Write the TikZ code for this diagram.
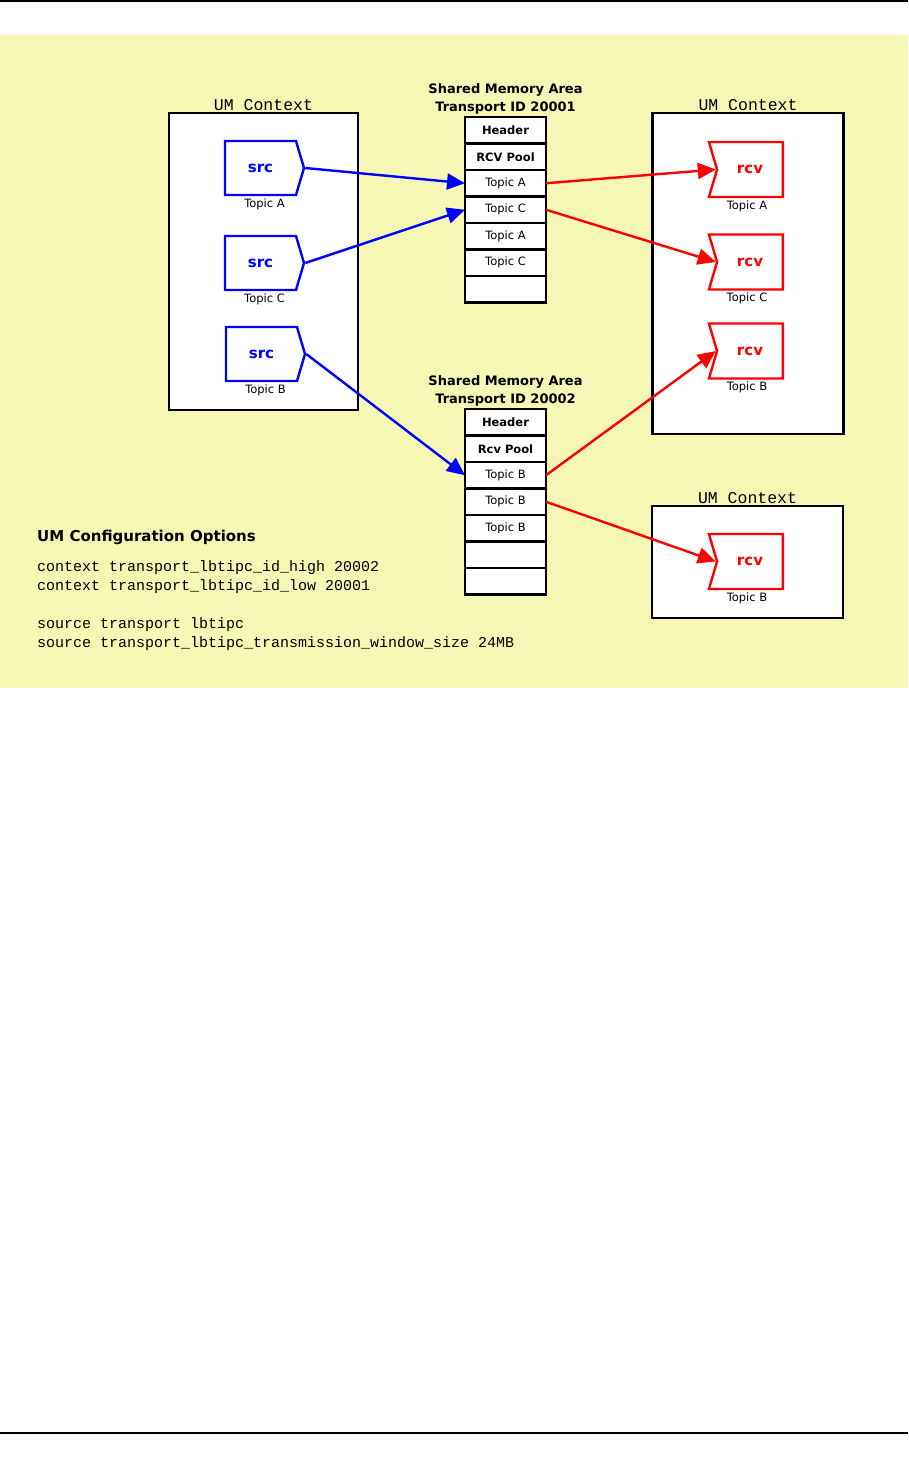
\documentclass[tikz,border=0pt]{standalone}
\usepackage{fontspec}
\setmainfont{DejaVu Sans}
\setmonofont{Liberation Mono}
\usetikzlibrary{positioning,arrows.meta,shapes.symbols}
\definecolor{bgyellow}{RGB}{246,247,180}

\begin{document}
\begin{tikzpicture}[x=1pt, y=-1pt, node distance=0pt,
  ctx/.style={draw, line width=2.2pt, fill=white, inner sep=0pt},
  ctxtitle/.style={font=\ttfamily\fontsize{16.5}{18}\selectfont, inner sep=1pt},
  srcbox/.style={signal, signal to=east, signal pointer angle=147, draw=blue, line width=2.4pt, fill=white, text=blue, font=\bfseries\fontsize{15}{17}\selectfont, minimum width=79pt, minimum height=54pt, inner sep=0pt},
  rcvbox/.style={signal, signal to=nowhere, signal from=west, signal pointer angle=147, draw=red, line width=2.4pt, fill=white, text=red, font=\bfseries\fontsize{15}{17}\selectfont, minimum width=74pt, minimum height=55pt, inner sep=0pt},
  topic/.style={font=\fontsize{11.5}{13}\selectfont, inner sep=1pt},
  cell/.style={draw, line width=2.2pt, fill=white, minimum width=81pt, minimum height=26.5pt, inner sep=0pt, outer sep=0pt, font=\fontsize{11.5}{13}\selectfont},
  hcell/.style={cell, font=\bfseries\fontsize{11.5}{13}\selectfont},
  shmtitle/.style={align=center, font=\bfseries\fontsize{13}{18}\selectfont, inner sep=1pt},
  sendarr/.style={draw=blue, line width=2.4pt, -{Triangle[length=18pt, width=16pt]}},
  recvarr/.style={sendarr, draw=red}]
\useasboundingbox (0,0) rectangle (908,1463);
\draw[line width=1.5pt] (0,1) -- (908,1);
\draw[line width=1.5pt] (0,1433) -- (908,1433);
\fill[bgyellow] (0,35) rectangle (908,688);
% contexts
\node[ctx, minimum width=189pt, minimum height=297pt] (ctxsrc) at (263.5,261.5) {};
\node[ctxtitle, above=of ctxsrc] (ctxsrct) {UM Context};
\node[ctx, minimum width=191pt, minimum height=321pt] (ctxrcv) at (748,273.5) {};
\node[ctxtitle, above=of ctxrcv] (ctxrcvt) {UM Context};
\node[ctx, minimum width=191pt, minimum height=112pt] (ctxrcvb) at (747.5,562) {};
\node[ctxtitle, above=of ctxrcvb] (ctxrcvbt) {UM Context};
% sources
\node[srcbox] (srcA) at (260.5,168) {src};
\node[topic, below=1pt of srcA, xshift=4pt] (srcAt) {Topic A};
\node[srcbox] (srcC) at (260.5,263) {src};
\node[topic, below=1pt of srcC, xshift=4pt] (srcCt) {Topic C};
\node[srcbox] (srcB) at (261.5,354) {src};
\node[topic, below=1pt of srcB, xshift=4pt] (srcBt) {Topic B};
% receivers
\node[rcvbox] (rcvA) at (750,169.5) {rcv};
\node[topic, below=1pt of rcvA, xshift=-3pt] (rcvAt) {Topic A};
\node[rcvbox] (rcvC) at (750,262) {rcv};
\node[topic, below=1pt of rcvC, xshift=-3pt] (rcvCt) {Topic C};
\node[rcvbox] (rcvB) at (750,351) {rcv};
\node[topic, below=1pt of rcvB, xshift=-3pt] (rcvBt) {Topic B};
\node[rcvbox] (rcvBb) at (750,561.5) {rcv};
\node[topic, below=1pt of rcvBb, xshift=-3pt] (rcvBbt) {Topic B};
% shared memory 20001
\node[hcell] (hdr1) at (505.5,130.25) {Header};
\node[shmtitle, above=2pt of hdr1] (shm1) {Shared Memory Area\\Transport ID 20001};
\node[hcell, below=of hdr1] (pool1) {RCV Pool};
\node[cell, below=of pool1] (a1) {Topic A};
\node[cell, below=of a1] (c1) {Topic C};
\node[cell, below=of c1] (a2) {Topic A};
\node[cell, below=of a2] (c2) {Topic C};
\node[cell, below=of c2] (free1) {};
% shared memory 20002
\node[hcell] (hdr2) at (505.5,422.25) {Header};
\node[shmtitle, above=2pt of hdr2] (shm2) {Shared Memory Area\\Transport ID 20002};
\node[hcell, below=of hdr2] (pool2) {Rcv Pool};
\node[cell, below=of pool2] (b1) {Topic B};
\node[cell, below=of b1] (b2) {Topic B};
\node[cell, below=of b2] (b3) {Topic B};
\node[cell, below=of b3] (free2) {};
\node[cell, below=of free2] (free3) {};
% options
\node[anchor=west, inner sep=0pt, font=\bfseries\fontsize{15}{18}\selectfont] (cfgt) at (37,537) {UM Configuration Options};
\node[anchor=north west, inner sep=0pt, align=left, font=\ttfamily\fontsize{15}{19}\selectfont] (cfg) at (37,560)
  {context transport\_lbtipc\_id\_high 20002\\
   context transport\_lbtipc\_id\_low 20001\\[19pt]
   source transport lbtipc\\
   source transport\_lbtipc\_transmission\_window\_size 24MB};
% flows
\draw[sendarr] (srcA.east) -- (a1.west);
\draw[sendarr] (srcC.east) -- (c1.west);
\draw[sendarr] (srcB.east) -- (b1.west);
\draw[recvarr] (a1.east) -- (rcvA.west);
\draw[recvarr] (c1.east) -- (rcvC.west);
\draw[recvarr] (b1.east) -- (rcvB.west);
\draw[recvarr] (b2.east) -- (rcvBb.west);
\end{tikzpicture}
\end{document}
